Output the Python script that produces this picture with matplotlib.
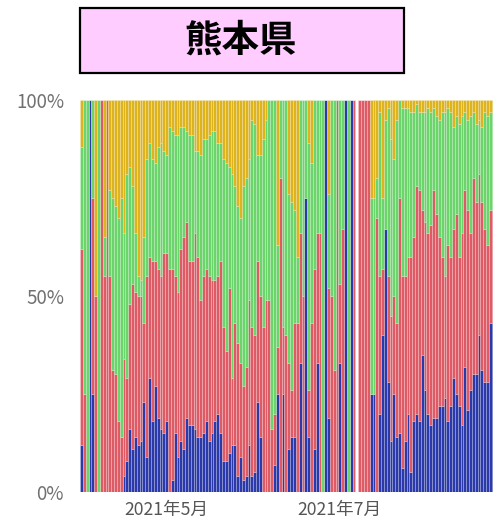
import numpy as np
import matplotlib
matplotlib.use("Agg")
import matplotlib.pyplot as plt
from matplotlib.patches import Rectangle

plt.rcParams['font.family'] = ['Noto Sans CJK JP', 'DejaVu Sans']

title = "熊本県"
x_tick_labels = ["2021年5月", "2021年7月"]
x_tick_days = [30, 91]          # day index of 1 May / 1 July (day 0 = 1 April 2021)
y_tick_labels = ["0%", "50%", "100%"]
y_tick_values = [0, 50, 100]

# daily shares (%) per category, day 0 = 2021-04-01 ; day 97 has no data
blue = [12,0,0,100,25,0,0,0,0,0,0,0,0,0,0,4,8,16,11,14,12,13,23,9,29,18,27,19,16,15,
        18,0,3,15,9,13,11,19,17,17,16,14,14,15,18,13,15,18,20,15,8,8,10,12,12,4,9,3,4,12,
        4,5,23,14,0,0,0,0,7,25,0,25,0,11,14,14,0,33,0,75,14,0,11,33,0,0,100,19,0,0,
        0,33,0,100,0,100,0,0,0,0,0,0,25,25,0,20,40,67,28,13,25,14,15,6,13,20,5,18,20,18,
        35,26,20,17,19,19,22,22,24,18,22,29,25,22,17,32,21,26,30,30,40,31,28,28,43,43]
red = [50,25,0,0,50,50,0,100,55,100,55,31,30,18,14,30,21,32,42,37,38,37,20,46,31,41,32,38,39,46,
       43,57,54,40,42,49,54,50,42,42,50,46,35,40,39,42,39,36,35,44,34,28,42,17,31,34,24,24,28,37,
       38,35,36,36,42,49,49,16,13,12,80,17,40,22,12,29,43,33,50,0,12,43,46,33,66,0,0,33,50,31,
       100,20,67,0,0,0,100,0,100,100,100,100,0,0,70,35,17,0,27,32,25,29,60,49,42,40,55,47,58,59,
       37,43,46,51,58,52,43,38,31,45,38,38,46,38,49,45,51,40,50,44,41,43,39,35,29,29]
green = [26,75,100,0,25,0,100,0,10,0,22,44,43,52,61,32,52,35,25,15,5,4,22,30,29,26,25,31,34,26,
         25,36,35,36,40,31,28,23,32,32,21,27,37,35,33,36,38,38,34,30,43,48,31,52,35,35,37,51,48,36,
         53,54,27,36,48,46,51,84,80,26,20,58,60,43,48,29,17,34,50,25,63,41,43,34,34,100,0,24,50,69,
         0,47,33,0,100,0,0,0,0,0,0,0,50,50,10,42,18,28,43,45,35,52,25,43,43,38,37,32,21,20,
         25,28,32,29,21,25,30,37,42,35,37,26,25,34,30,20,23,30,17,20,14,19,30,33,25,25]
yellow = [12,0,0,0,0,50,0,0,35,0,23,25,27,30,25,34,19,17,22,34,45,46,35,15,11,15,16,12,11,13,
          14,7,8,9,9,7,7,8,9,9,13,13,14,10,10,9,8,8,11,11,15,16,17,19,22,27,30,22,20,15,
          5,6,14,14,10,5,0,0,0,37,0,0,0,24,26,28,40,0,0,0,11,16,0,0,0,0,0,24,0,0,
          0,0,0,0,0,0,0,0,0,0,0,0,25,25,20,3,25,5,2,10,15,5,0,2,2,2,3,3,1,3,
          3,3,2,3,2,4,5,3,3,2,3,7,4,6,4,3,5,4,3,6,5,7,3,4,3,3]

series = [("blue", blue, "#2B3AA8"), ("red", red, "#DE5B66"),
          ("green", green, "#6BD46B"), ("yellow", yellow, "#DDB31E")]

W, H = 493, 518
fig = plt.figure(figsize=(W / 100, H / 100), dpi=100)
ax = fig.add_axes([80 / W, (H - 492) / H, (W - 80) / W, (492 - 100) / H])

days = np.arange(len(blue))
bottom = np.zeros(len(days))
for name, vals, col in series:
    v = np.array(vals, dtype=float)
    ax.bar(days, v, bottom=bottom, width=1.0, color=col,
           edgecolor=(1, 1, 1, 0.35), linewidth=0.4)
    bottom += v

ax.set_xlim(-0.5, -0.5 + (W - 80) / 2.84)
ax.set_ylim(0, 100)
for s in ax.spines.values():
    s.set_visible(False)
ax.set_yticks(y_tick_values)
ax.set_yticklabels(y_tick_labels, fontsize=13.5, color="#707070")
ax.set_xticks(x_tick_days)
ax.set_xticklabels(x_tick_labels, fontsize=12.7, color="#555555")
ax.tick_params(axis="both", length=0)
ax.tick_params(axis="y", pad=11.5)
ax.tick_params(axis="x", pad=6.5)

fig.add_artist(Rectangle((80 / W, (H - 73) / H), (404 - 80) / W, 65 / H,
                         transform=fig.transFigure, facecolor="#FFCCFF",
                         edgecolor="black", linewidth=1.6))
fig.text(241 / W, (H - 40) / H, title, ha="center", va="center",
         fontsize=27, fontweight="bold", color="black")

fig.savefig("out.png", dpi=100)
